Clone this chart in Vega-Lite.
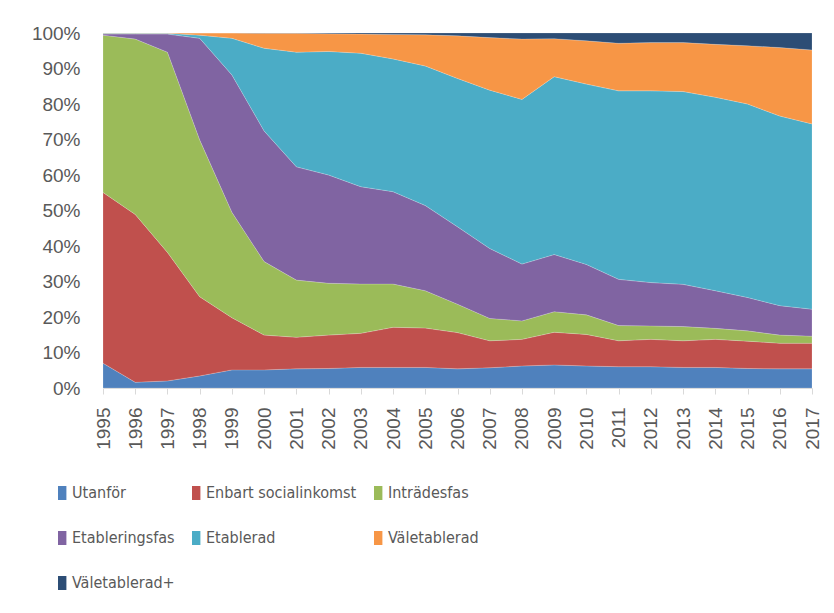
{
  "$schema": "https://vega.github.io/schema/vega-lite/v6.json",
  "autosize": {"type": "none"},
  "padding": {"left": 103, "top": 33, "right": 22, "bottom": 225},
  "width": 709,
  "height": 355,
  "background": "white",
  "config": {
    "view": {"stroke": null},
    "font": "Liberation Sans"
  },
  "datasets": {
    "wide": [
      {"year": "1995", "Utanför": 7.0, "Enbart socialinkomst": 48.1, "Inträdesfas": 44.3, "Etableringsfas": 0.3, "Etablerad": 0.2, "Väletablerad": 0.1, "Väletablerad+": 0.0},
      {"year": "1996", "Utanför": 1.6, "Enbart socialinkomst": 47.3, "Inträdesfas": 49.4, "Etableringsfas": 1.4, "Etablerad": 0.2, "Väletablerad": 0.1, "Väletablerad+": 0.0},
      {"year": "1997", "Utanför": 2.0, "Enbart socialinkomst": 36.2, "Inträdesfas": 56.4, "Etableringsfas": 5.1, "Etablerad": 0.2, "Väletablerad": 0.1, "Väletablerad+": 0.0},
      {"year": "1998", "Utanför": 3.4, "Enbart socialinkomst": 22.3, "Inträdesfas": 44.2, "Etableringsfas": 28.6, "Etablerad": 0.9, "Väletablerad": 0.6, "Väletablerad+": 0.0},
      {"year": "1999", "Utanför": 5.1, "Enbart socialinkomst": 14.7, "Inträdesfas": 29.7, "Etableringsfas": 38.7, "Etablerad": 10.3, "Väletablerad": 1.5, "Väletablerad+": 0.0},
      {"year": "2000", "Utanför": 5.1, "Enbart socialinkomst": 9.8, "Inträdesfas": 20.7, "Etableringsfas": 36.8, "Etablerad": 23.3, "Väletablerad": 4.2, "Väletablerad+": 0.1},
      {"year": "2001", "Utanför": 5.4, "Enbart socialinkomst": 8.9, "Inträdesfas": 16.1, "Etableringsfas": 31.9, "Etablerad": 32.3, "Väletablerad": 5.3, "Väletablerad+": 0.1},
      {"year": "2002", "Utanför": 5.5, "Enbart socialinkomst": 9.4, "Inträdesfas": 14.6, "Etableringsfas": 30.5, "Etablerad": 34.8, "Väletablerad": 5.0, "Väletablerad+": 0.2},
      {"year": "2003", "Utanför": 5.8, "Enbart socialinkomst": 9.6, "Inträdesfas": 13.9, "Etableringsfas": 27.4, "Etablerad": 37.6, "Väletablerad": 5.4, "Väletablerad+": 0.3},
      {"year": "2004", "Utanför": 5.8, "Enbart socialinkomst": 11.3, "Inträdesfas": 12.2, "Etableringsfas": 26.0, "Etablerad": 37.4, "Väletablerad": 6.9, "Väletablerad+": 0.4},
      {"year": "2005", "Utanför": 5.8, "Enbart socialinkomst": 11.1, "Inträdesfas": 10.5, "Etableringsfas": 24.0, "Etablerad": 39.3, "Väletablerad": 8.8, "Väletablerad+": 0.5},
      {"year": "2006", "Utanför": 5.4, "Enbart socialinkomst": 10.2, "Inträdesfas": 8.0, "Etableringsfas": 21.8, "Etablerad": 41.8, "Väletablerad": 12.0, "Väletablerad+": 0.8},
      {"year": "2007", "Utanför": 5.7, "Enbart socialinkomst": 7.6, "Inträdesfas": 6.3, "Etableringsfas": 19.7, "Etablerad": 44.6, "Väletablerad": 14.8, "Väletablerad+": 1.3},
      {"year": "2008", "Utanför": 6.2, "Enbart socialinkomst": 7.5, "Inträdesfas": 5.2, "Etableringsfas": 16.0, "Etablerad": 46.4, "Väletablerad": 17.0, "Väletablerad+": 1.7},
      {"year": "2009", "Utanför": 6.5, "Enbart socialinkomst": 9.2, "Inträdesfas": 5.8, "Etableringsfas": 16.1, "Etablerad": 50.1, "Väletablerad": 10.7, "Väletablerad+": 1.6},
      {"year": "2010", "Utanför": 6.2, "Enbart socialinkomst": 8.9, "Inträdesfas": 5.5, "Etableringsfas": 14.2, "Etablerad": 50.8, "Väletablerad": 12.2, "Väletablerad+": 2.2},
      {"year": "2011", "Utanför": 6.0, "Enbart socialinkomst": 7.3, "Inträdesfas": 4.3, "Etableringsfas": 13.0, "Etablerad": 53.1, "Väletablerad": 13.4, "Väletablerad+": 2.9},
      {"year": "2012", "Utanför": 6.0, "Enbart socialinkomst": 7.7, "Inträdesfas": 3.8, "Etableringsfas": 12.2, "Etablerad": 54.0, "Väletablerad": 13.6, "Väletablerad+": 2.7},
      {"year": "2013", "Utanför": 5.8, "Enbart socialinkomst": 7.5, "Inträdesfas": 4.0, "Etableringsfas": 11.9, "Etablerad": 54.3, "Väletablerad": 13.8, "Väletablerad+": 2.7},
      {"year": "2014", "Utanför": 5.8, "Enbart socialinkomst": 7.9, "Inträdesfas": 3.1, "Etableringsfas": 10.6, "Etablerad": 54.5, "Väletablerad": 14.9, "Väletablerad+": 3.2},
      {"year": "2015", "Utanför": 5.5, "Enbart socialinkomst": 7.7, "Inträdesfas": 2.9, "Etableringsfas": 9.4, "Etablerad": 54.5, "Väletablerad": 16.4, "Väletablerad+": 3.6},
      {"year": "2016", "Utanför": 5.4, "Enbart socialinkomst": 7.2, "Inträdesfas": 2.3, "Etableringsfas": 8.3, "Etablerad": 53.4, "Väletablerad": 19.3, "Väletablerad+": 4.1},
      {"year": "2017", "Utanför": 5.4, "Enbart socialinkomst": 7.2, "Inträdesfas": 2.0, "Etableringsfas": 7.6, "Etablerad": 52.2, "Väletablerad": 20.8, "Väletablerad+": 4.8}
    ],
    "order": [
      {"kategori": "Utanför", "ord": 1},
      {"kategori": "Enbart socialinkomst", "ord": 2},
      {"kategori": "Inträdesfas", "ord": 3},
      {"kategori": "Etableringsfas", "ord": 4},
      {"kategori": "Etablerad", "ord": 5},
      {"kategori": "Väletablerad", "ord": 6},
      {"kategori": "Väletablerad+", "ord": 7}
    ]
  },
  "data": {"name": "wide"},
  "transform": [
    {"fold": ["Utanför", "Enbart socialinkomst", "Inträdesfas", "Etableringsfas", "Etablerad", "Väletablerad", "Väletablerad+"], "as": ["kategori", "andel"]},
    {"lookup": "kategori", "from": {"data": {"name": "order"}, "key": "kategori", "fields": ["ord"]}}
  ],
  "mark": {"type": "area", "interpolate": "linear", "stroke": "white", "strokeWidth": 0.3, "strokeOpacity": 0.6},
  "encoding": {
    "x": {
      "field": "year",
      "type": "ordinal",
      "scale": {"type": "point", "padding": 0},
      "axis": {
        "title": null,
        "labelAngle": -90,
        "labelFontSize": 19,
        "labelColor": "#595959",
        "labelPadding": 13,
        "tickSize": 6,
        "tickColor": "#D9D9D9",
        "domainColor": "#D9D9D9",
        "domainWidth": 1,
        "grid": false
      }
    },
    "y": {
      "field": "andel",
      "type": "quantitative",
      "stack": "normalize",
      "scale": {"domain": [0, 1], "nice": false},
      "axis": {
        "title": null,
        "format": ".0%",
        "values": [0, 0.1, 0.2, 0.3, 0.4, 0.5, 0.6, 0.7, 0.8, 0.9, 1],
        "labelFontSize": 19,
        "labelColor": "#595959",
        "labelPadding": 23,
        "ticks": false,
        "domain": false,
        "grid": false
      }
    },
    "color": {
      "field": "kategori",
      "type": "nominal",
      "scale": {
        "domain": ["Utanför", "Enbart socialinkomst", "Inträdesfas", "Etableringsfas", "Etablerad", "Väletablerad", "Väletablerad+"],
        "range": ["#4F81BD", "#C0504D", "#9BBB59", "#8064A2", "#4BACC6", "#F79646", "#2C4D75"]
      },
      "legend": {
        "title": null,
        "orient": "none",
        "legendX": -46,
        "legendY": 452,
        "padding": 0,
        "direction": "horizontal",
        "columns": 3,
        "gridAlign": "each",
        "columnPadding": 16,
        "rowPadding": 29,
        "symbolType": "M-1,-1H0.2V1H-1Z",
        "symbolSize": 196,
        "symbolStrokeWidth": 0,
        "symbolOpacity": 1,
        "labelFont": "DejaVu Sans Condensed, Liberation Sans",
        "labelFontSize": 16,
        "labelColor": "#595959",
        "labelOffset": -1,
        "labelLimit": 300
      }
    },
    "order": {"field": "ord", "type": "quantitative"}
  }
}
